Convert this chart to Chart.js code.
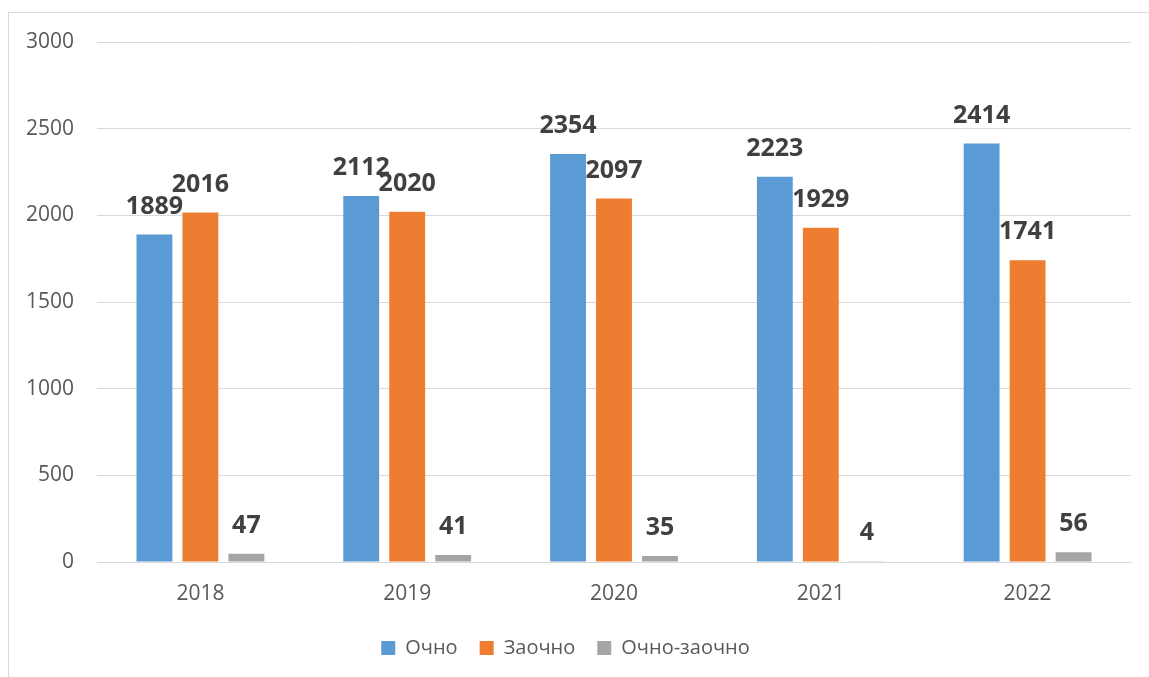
<!DOCTYPE html>
<html>
<head>
<meta charset="utf-8">
<script src="https://cdn.jsdelivr.net/npm/chart.js@4.4.0/dist/chart.umd.min.js"></script>
<style>
  html, body { margin: 0; padding: 0; background: #ffffff; }
  #wrap { position: relative; width: 1149px; height: 677px; overflow: hidden; }
  #frame { position: absolute; left: 8px; top: 12px; width: 1200px; height: 700px; border: 1px solid #d9d9d9; box-sizing: border-box; }
  canvas { position: absolute; left: 0; top: 0; }
</style>
</head>
<body>
<div id="wrap">
  <div id="frame"></div>
  <canvas id="c" width="1149" height="677"></canvas>
</div>
<script>
const categories = ['2018', '2019', '2020', '2021', '2022'];
const seriesNames = ['Очно', 'Заочно', 'Очно-заочно'];
const ochno = [1889, 2112, 2354, 2223, 2414];
const zaochno = [2016, 2020, 2097, 1929, 1741];
const ochnoZaochno = [47, 41, 35, 4, 56];
const yTicks = [0, 500, 1000, 1500, 2000, 2500, 3000];

const colors = ['#5B9BD5', '#ED7D31', '#A5A5A5'];
const FONT = "'Open Sans', 'Segoe UI', sans-serif";

const valueLabels = {
  id: 'valueLabels',
  afterDatasetsDraw(chart) {
    const ctx = chart.ctx;
    ctx.save();
    ctx.font = 'bold 25px ' + FONT;
    ctx.fillStyle = '#404040';
    ctx.textAlign = 'center';
    ctx.textBaseline = 'middle';
    chart.data.datasets.forEach((ds, i) => {
      const meta = chart.getDatasetMeta(i);
      meta.data.forEach((el, j) => {
        ctx.fillText(String(ds.data[j]), el.x, el.y - 28);
      });
    });
    ctx.restore();
  }
};

new Chart(document.getElementById('c'), {
  type: 'bar',
  data: {
    labels: categories,
    datasets: [
      { label: seriesNames[0], data: ochno, backgroundColor: colors[0] },
      { label: seriesNames[1], data: zaochno, backgroundColor: colors[1] },
      { label: seriesNames[2], data: ochnoZaochno, backgroundColor: colors[2] }
    ]
  },
  options: {
    responsive: false,
    animation: false,
    layout: { padding: { left: 0, right: 18, top: 42, bottom: 9 } },
    datasets: { bar: { categoryPercentage: 0.667, barPercentage: 0.78 } },
    scales: {
      x: {
        grid: { display: false, drawTicks: false },
        border: { display: true, color: '#d9d9d9', width: 1 },
        ticks: { color: '#595959', font: { family: FONT, size: 21 }, padding: 19 },
        afterFit(s) { s.height = 54; }
      },
      y: {
        min: 0, max: 3000,
        afterBuildTicks(s) { s.ticks = yTicks.map(v => ({ value: v })); },
        grid: { color: '#d9d9d9', lineWidth: 1, drawTicks: false },
        border: { display: false },
        ticks: { color: '#595959', font: { family: FONT, size: 21 }, padding: 23, callback: v => String(v) },
        afterFit(s) { s.width = 97; }
      }
    },
    plugins: {
      legend: {
        position: 'bottom',
        labels: {
          color: '#595959',
          font: { family: FONT, size: 20 },
          boxWidth: 14, boxHeight: 14,
          padding: 22
        }
      },
      tooltip: { enabled: false }
    }
  },
  plugins: [valueLabels]
});
</script>
</body>
</html>
